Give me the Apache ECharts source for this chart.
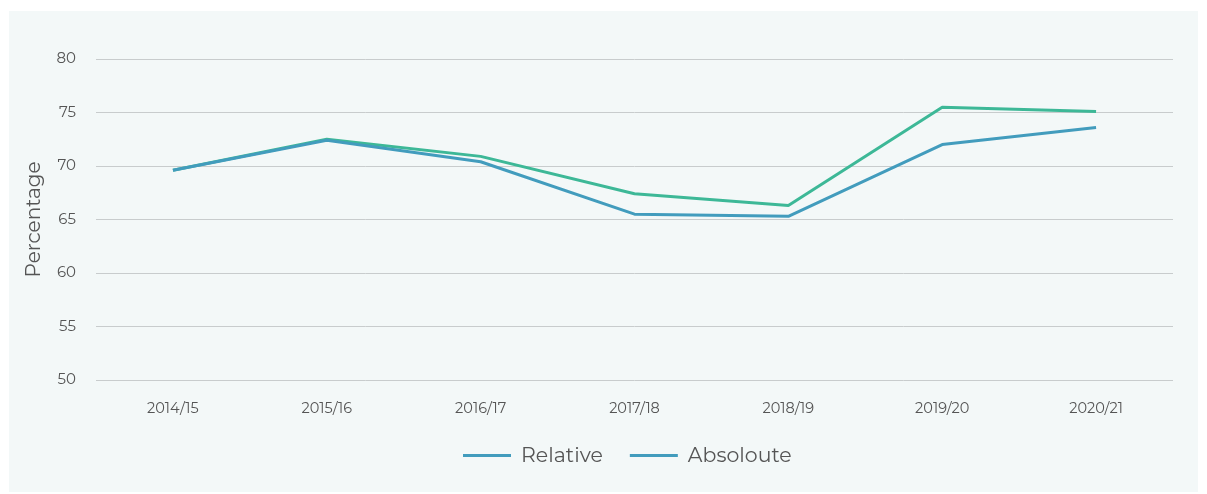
<!DOCTYPE html>
<html>
<head>
<meta charset="utf-8">
<script src="https://cdn.jsdelivr.net/npm/echarts@6/dist/echarts.min.js"></script>
<style>
html,body{margin:0;padding:0;background:#ffffff;}
#panel{position:absolute;left:9px;top:11px;width:1189px;height:481px;background:#f3f8f8;}
#chart{width:1189px;height:481px;}
</style>
</head>
<body>
<div id="panel"><div id="chart"></div></div>
<script>
const categories = ['2014/15','2015/16','2016/17','2017/18','2018/19','2019/20','2020/21'];
const relative = [69.6, 72.5, 70.9, 67.4, 66.3, 75.5, 75.1];
const absoloute = [69.6, 72.4, 70.4, 65.5, 65.3, 72.0, 73.6];
const seriesNames = ['Relative', 'Absoloute'];
const yTicks = {min: 50, max: 80, interval: 5};

const blue = '#429cbd';
const green = '#3db897';
const font = 'Montserrat, "Open Sans", Lato, sans-serif';

const chart = echarts.init(document.getElementById('chart'), null, {renderer: 'canvas'});
chart.setOption({
  animation: false,
  backgroundColor: 'transparent',
  grid: {left: 87, right: 25, top: 48, bottom: 112, containLabel: false},
  legend: {
    top: 429,
    left: 449,
    itemWidth: 48,
    itemHeight: 14,
    itemGap: 27,
    icon: 'path://M0,6 L48,6 L48,9 L0,9 Z',
    textStyle: {fontFamily: font, fontSize: 20.5, color: '#555', padding: [0, 0, 0, 5]},
    data: [
      {name: seriesNames[0], itemStyle: {color: blue}},
      {name: seriesNames[1], itemStyle: {color: blue}}
    ]
  },
  xAxis: {
    type: 'category',
    data: categories,
    boundaryGap: true,
    axisLine: {show: false},
    axisTick: {show: false},
    axisLabel: {color: '#555', fontFamily: font, fontSize: 14.5, margin: 21}
  },
  yAxis: {
    type: 'value',
    min: yTicks.min,
    max: yTicks.max,
    interval: yTicks.interval,
    name: 'Percentage',
    nameLocation: 'middle',
    nameGap: 52,
    nameTextStyle: {color: '#555', fontFamily: font, fontSize: 20},
    axisLine: {show: false},
    axisTick: {show: false},
    axisLabel: {color: '#555', fontFamily: font, fontSize: 15, margin: 20},
    splitLine: {lineStyle: {color: '#c8cccd', width: 1}}
  },
  series: [
    {
      name: seriesNames[0], type: 'line', data: relative,
      showSymbol: false, symbol: 'none',
      lineStyle: {color: green, width: 3},
      itemStyle: {color: green}
    },
    {
      name: seriesNames[1], type: 'line', data: absoloute,
      showSymbol: false, symbol: 'none',
      lineStyle: {color: blue, width: 3},
      itemStyle: {color: blue}
    }
  ]
});
</script>
</body>
</html>
